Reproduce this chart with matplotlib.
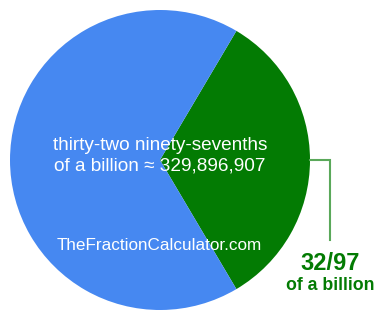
import matplotlib.pyplot as plt

# fraction data
numerator = 32
denominator = 97
slice_values = [numerator, denominator - numerator]
slice_colors = ['#037b03', '#4688f1']
fraction_label = '32/97'
sub_label = 'of a billion'
center_text = 'thirty-two ninety-sevenths\nof a billion \u2248 329,896,907'
site_text = 'TheFractionCalculator.com'

plt.rcParams['font.family'] = ['Liberation Sans', 'DejaVu Sans']

fig = plt.figure(figsize=(3.85, 3.2), dpi=100)
ax = fig.add_axes([0, 0, 1, 1])

# green slice centred on the right-hand side
start = -numerator / denominator * 180
ax.pie(slice_values, colors=slice_colors, startangle=start, counterclock=True,
       center=(160, 160), radius=150, wedgeprops=dict(linewidth=0))
ax.set_xlim(0, 385)
ax.set_ylim(0, 320)
ax.set_aspect('equal')
ax.axis('off')

# leader line for the label
ax.plot([310, 330, 330], [160, 160, 80], color='#5aa85a', linewidth=1.5,
        solid_joinstyle='miter')
ax.text(330, 56, fraction_label, color='#037b03', fontsize=17, fontweight='bold',
        ha='center', va='center')
ax.text(330, 35, sub_label, color='#037b03', fontsize=12.8, fontweight='bold',
        ha='center', va='center')

ax.text(160, 164, center_text, color='white', fontsize=13.7, ha='center',
        va='center', linespacing=1.3)
ax.text(159, 75, site_text, color='white', fontsize=12.3, ha='center', va='center')

fig.savefig('out.png', dpi=100)
